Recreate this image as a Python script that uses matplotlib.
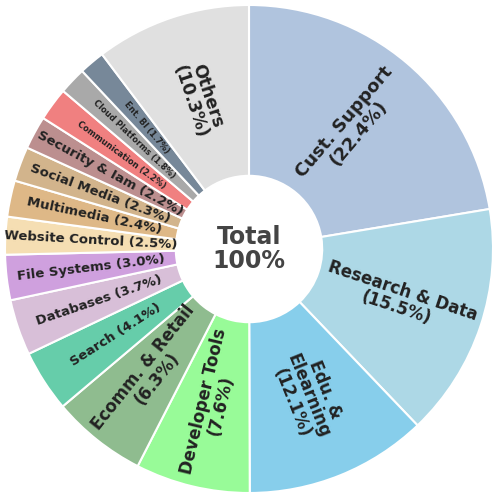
import numpy as np
import matplotlib
matplotlib.use("Agg")
import matplotlib.pyplot as plt

categories = ["Cust. Support", "Research & Data", "Edu. &\nElearning", "Developer Tools",
              "Ecomm. & Retail", "Search", "Databases", "File Systems", "Website Control",
              "Multimedia", "Social Media", "Security & Iam", "Communication",
              "Cloud Platforms", "Ent. BI", "Others"]
shares = [22.4, 15.5, 12.1, 7.6, 6.3, 4.1, 3.7, 3.0, 2.5, 2.4, 2.3, 2.2, 2.2, 1.8, 1.7, 10.3]
colors = ["#b0c4de", "#add8e6", "#87ceeb", "#98fb98", "#8fbc8f", "#66cdaa", "#d8bfd8",
          "#cfa0de", "#f5deb3", "#deb887", "#d2b48c", "#bc8f8f", "#f08080", "#a9a9a9",
          "#778899", "#e0e0e0"]
two_line = {"Cust. Support", "Research & Data", "Edu. &\nElearning", "Developer Tools",
            "Ecomm. & Retail", "Others"}
font_sizes = [13, 12, 12, 12, 12, 9.5, 9.5, 9.5, 9.5, 9.5, 9.5, 9.5, 6, 6, 6, 12.5]

fig = plt.figure(figsize=(4.98, 4.98), dpi=100)
ax = fig.add_axes([0, 0, 1, 1])
wedges, _ = ax.pie(shares, colors=colors, startangle=90, counterclock=False,
                   radius=1.0, wedgeprops=dict(width=0.7, edgecolor="white", linewidth=1.5))

for w, cat, val, fs in zip(wedges, categories, shares, font_sizes):
    ang = (w.theta1 + w.theta2) / 2.0
    a = ang % 360
    rot = a - 180 if 90 < a < 270 else (a if a <= 90 else a - 360)
    r = 0.65
    x, y = r * np.cos(np.radians(ang)), r * np.sin(np.radians(ang))
    txt = f"{cat}\n({val}%)" if cat in two_line else f"{cat} ({val}%)"
    ax.text(x, y, txt, ha="center", va="center", rotation=rot, rotation_mode="anchor",
            fontsize=fs, fontweight="bold", color="#222222", linespacing=1.0)

ax.text(0, 0, "Total\n100%", ha="center", va="center", fontsize=17,
        fontweight="bold", color="#444444", linespacing=1.0)
ax.set_xlim(-1.0205, 1.0205)
ax.set_ylim(-1.0205, 1.0205)
ax.set_aspect("equal")
ax.axis("off")
fig.savefig("out.png", dpi=100)
